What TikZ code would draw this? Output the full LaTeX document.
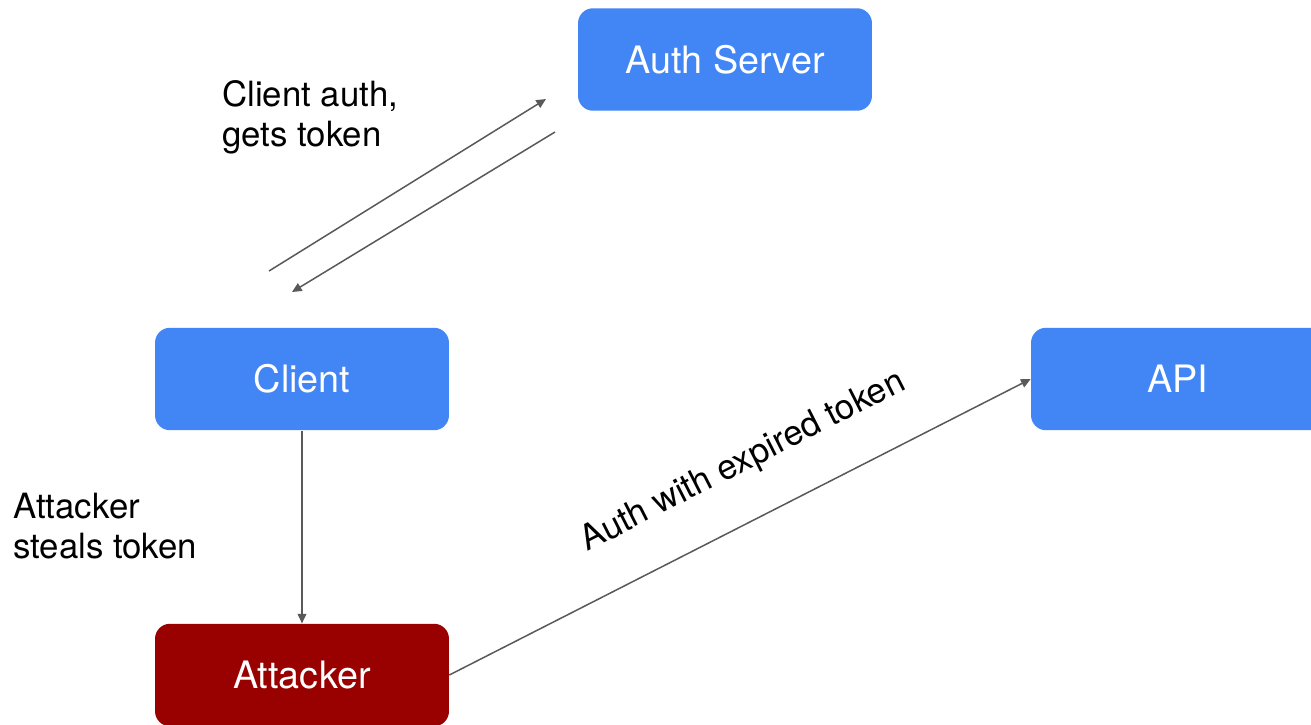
\documentclass[tikz,border=0pt]{standalone}
\usepackage{fontspec}
\setmainfont{TeX Gyre Heros}
\usepackage{xcolor}
\usepackage{tikz}
\usetikzlibrary{arrows.meta}

\definecolor{boxblue}{HTML}{4285F4}
\definecolor{boxred}{HTML}{990000}
\definecolor{linegray}{HTML}{595959}

\begin{document}
\begin{tikzpicture}[x=0.02cm, y=-0.02cm,
  box/.style = {rounded corners=0.3cm, fill=boxblue, text=white,
    minimum width=5.88cm, minimum height=2.05cm, inner sep=0pt,
    font=\fontsize{21.5}{25}\selectfont},
  badbox/.style = {box, fill=boxred},
  lbl/.style = {inner sep=0pt, align=left, anchor=north west,
    font=\fontsize{19.8}{22.7}\selectfont},
  link/.style = {draw=linegray, line width=0.85pt,
    -{Triangle[length=5.5pt, width=5pt]}}]

%% cadre de l'image
\clip (0,0) rectangle (1311,724);
\fill[white] (0,0) rectangle (1311,724);

%% les boites
\node[box] (auth) at (725,59.5) {Auth Server};
\node[box] (client) at (302,379) {Client};
\node[box] (api) at (1178,379) {API};
\node[badbox] (attacker) at (302,675) {Attacker};

%% echange client / serveur
\coordinate (req-from) at (269,271);
\coordinate (req-to) at (546,99);
\coordinate (resp-from) at (555,132);
\coordinate (resp-to) at (292,292);
\draw[link] (req-from) -- (req-to);
\draw[link] (resp-from) -- (resp-to);
\node[lbl] (authlbl) at (222,80) {Client auth,\\gets token};

%% vol du jeton
\draw[link] (client.south) -- (attacker.north);
\node[lbl] (steallbl) at (13,493) {Attacker\\steals token};

%% jeton expire
\draw[link] (attacker.east) -- node[pos=0.55, sloped, yshift=32pt,
  inner sep=0pt, font=\fontsize{19.8}{22.7}\selectfont]
  (expiredlbl) {Auth with expired token} (api.west);

\end{tikzpicture}
\end{document}
